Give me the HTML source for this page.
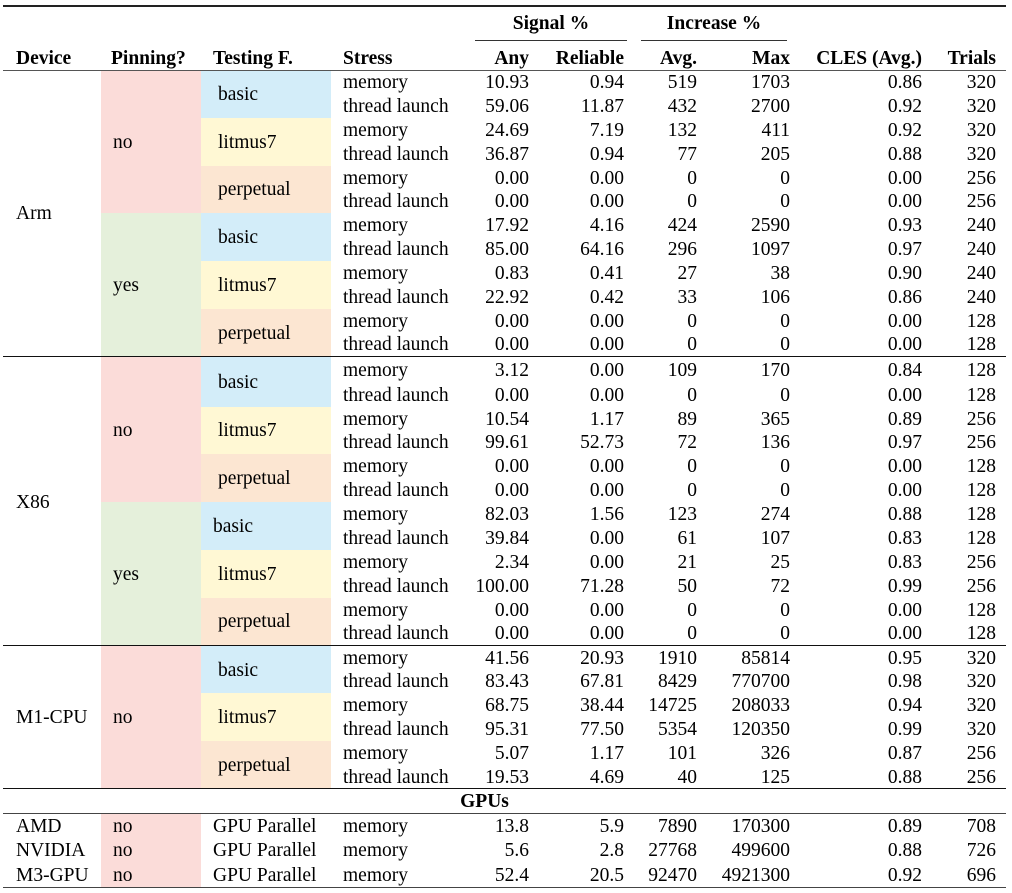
<!DOCTYPE html>
<html><head><meta charset="utf-8"><style>
body{margin:0;background:#fff;width:1012px;height:893px;overflow:hidden;font-family:"Liberation Serif","Times New Roman",serif;font-size:19.5px;color:#000}
table{position:absolute;left:3px;top:5px;width:1003px;border-collapse:collapse;table-layout:fixed;border-top:2px solid #222;border-bottom:1.5px solid #444}
td,th{padding:0;line-height:20px;white-space:nowrap}
tbody td{padding-top:2px}
th{font-weight:bold}
tbody tr{height:23.9px}
tbody tr.sec{height:23.9px}
tbody tr.big{height:26px}
tbody tr.big td{padding-top:3px}
tbody tr.g{height:24.6px}
.r{text-align:right}
.c1{padding-left:13px}.c2{padding-left:12px}.c3{padding-left:17px}.c4{padding-left:12px}
.pk{background:#fbdcd9}.gr{background:#e5f0db}.bl{background:#d3edf9}.ye{background:#fff8d4}.or{background:#fce6d2}
.sec td{border-top:1.3px solid #111}
tr.hd2{height:30px}
.hd2 th{border-bottom:1.3px solid #555;vertical-align:top;padding-top:8px}
.ul{border-bottom:1px solid #333}
</style></head><body>
<table>
<colgroup><col style="width:98px"><col style="width:100px"><col style="width:130px"><col style="width:104px"><col style="width:100px"><col style="width:95px"><col style="width:73px"><col style="width:93px"><col style="width:132px"><col style="width:78px"></colgroup>
<thead>
<tr style="height:35px"><th></th><th></th><th></th><th></th><th colspan="2" style="padding-left:40px;vertical-align:bottom"><div class="ul" style="width:152px;text-align:center;padding-bottom:6px">Signal %</div></th><th colspan="2" style="padding-left:11px;vertical-align:bottom"><div class="ul" style="width:146px;text-align:center;padding-bottom:6px">Increase %</div></th><th></th><th></th></tr>
<tr class="hd2" style="height:29px"><th style="text-align:left" class="c1">Device</th><th style="text-align:left;padding-left:10px">Pinning?</th><th style="text-align:left;padding-left:12px">Testing F.</th><th style="text-align:left" class="c4">Stress</th><th class="r" style="padding-right:6px">Any</th><th class="r" style="padding-right:6px">Reliable</th><th class="r" style="padding-right:6px">Avg.</th><th class="r" style="padding-right:6px">Max</th><th class="r" style="padding-right:6px">CLES (Avg.)</th><th class="r" style="padding-right:10px">Trials</th></tr>
</thead>
<tbody>
<tr><td rowspan="12" class="c1">Arm</td><td rowspan="6" class="c2 pk">no</td><td rowspan="2" class="c3 bl">basic</td><td class="c4">memory</td><td class="r" style="padding-right:6px">10.93</td><td class="r" style="padding-right:6px">0.94</td><td class="r" style="padding-right:6px">519</td><td class="r" style="padding-right:6px">1703</td><td class="r" style="padding-right:6px">0.86</td><td class="r" style="padding-right:10px">320</td></tr>
<tr><td class="c4">thread launch</td><td class="r" style="padding-right:6px">59.06</td><td class="r" style="padding-right:6px">11.87</td><td class="r" style="padding-right:6px">432</td><td class="r" style="padding-right:6px">2700</td><td class="r" style="padding-right:6px">0.92</td><td class="r" style="padding-right:10px">320</td></tr>
<tr><td rowspan="2" class="c3 ye">litmus7</td><td class="c4">memory</td><td class="r" style="padding-right:6px">24.69</td><td class="r" style="padding-right:6px">7.19</td><td class="r" style="padding-right:6px">132</td><td class="r" style="padding-right:6px">411</td><td class="r" style="padding-right:6px">0.92</td><td class="r" style="padding-right:10px">320</td></tr>
<tr><td class="c4">thread launch</td><td class="r" style="padding-right:6px">36.87</td><td class="r" style="padding-right:6px">0.94</td><td class="r" style="padding-right:6px">77</td><td class="r" style="padding-right:6px">205</td><td class="r" style="padding-right:6px">0.88</td><td class="r" style="padding-right:10px">320</td></tr>
<tr><td rowspan="2" class="c3 or">perpetual</td><td class="c4">memory</td><td class="r" style="padding-right:6px">0.00</td><td class="r" style="padding-right:6px">0.00</td><td class="r" style="padding-right:6px">0</td><td class="r" style="padding-right:6px">0</td><td class="r" style="padding-right:6px">0.00</td><td class="r" style="padding-right:10px">256</td></tr>
<tr><td class="c4">thread launch</td><td class="r" style="padding-right:6px">0.00</td><td class="r" style="padding-right:6px">0.00</td><td class="r" style="padding-right:6px">0</td><td class="r" style="padding-right:6px">0</td><td class="r" style="padding-right:6px">0.00</td><td class="r" style="padding-right:10px">256</td></tr>
<tr><td rowspan="6" class="c2 gr">yes</td><td rowspan="2" class="c3 bl">basic</td><td class="c4">memory</td><td class="r" style="padding-right:6px">17.92</td><td class="r" style="padding-right:6px">4.16</td><td class="r" style="padding-right:6px">424</td><td class="r" style="padding-right:6px">2590</td><td class="r" style="padding-right:6px">0.93</td><td class="r" style="padding-right:10px">240</td></tr>
<tr><td class="c4">thread launch</td><td class="r" style="padding-right:6px">85.00</td><td class="r" style="padding-right:6px">64.16</td><td class="r" style="padding-right:6px">296</td><td class="r" style="padding-right:6px">1097</td><td class="r" style="padding-right:6px">0.97</td><td class="r" style="padding-right:10px">240</td></tr>
<tr><td rowspan="2" class="c3 ye">litmus7</td><td class="c4">memory</td><td class="r" style="padding-right:6px">0.83</td><td class="r" style="padding-right:6px">0.41</td><td class="r" style="padding-right:6px">27</td><td class="r" style="padding-right:6px">38</td><td class="r" style="padding-right:6px">0.90</td><td class="r" style="padding-right:10px">240</td></tr>
<tr><td class="c4">thread launch</td><td class="r" style="padding-right:6px">22.92</td><td class="r" style="padding-right:6px">0.42</td><td class="r" style="padding-right:6px">33</td><td class="r" style="padding-right:6px">106</td><td class="r" style="padding-right:6px">0.86</td><td class="r" style="padding-right:10px">240</td></tr>
<tr><td rowspan="2" class="c3 or">perpetual</td><td class="c4">memory</td><td class="r" style="padding-right:6px">0.00</td><td class="r" style="padding-right:6px">0.00</td><td class="r" style="padding-right:6px">0</td><td class="r" style="padding-right:6px">0</td><td class="r" style="padding-right:6px">0.00</td><td class="r" style="padding-right:10px">128</td></tr>
<tr><td class="c4">thread launch</td><td class="r" style="padding-right:6px">0.00</td><td class="r" style="padding-right:6px">0.00</td><td class="r" style="padding-right:6px">0</td><td class="r" style="padding-right:6px">0</td><td class="r" style="padding-right:6px">0.00</td><td class="r" style="padding-right:10px">128</td></tr>

<tr class="sec big"><td rowspan="12" class="c1">X86</td><td rowspan="6" class="c2 pk">no</td><td rowspan="2" class="c3 bl">basic</td><td class="c4">memory</td><td class="r" style="padding-right:6px">3.12</td><td class="r" style="padding-right:6px">0.00</td><td class="r" style="padding-right:6px">109</td><td class="r" style="padding-right:6px">170</td><td class="r" style="padding-right:6px">0.84</td><td class="r" style="padding-right:10px">128</td></tr>
<tr><td class="c4">thread launch</td><td class="r" style="padding-right:6px">0.00</td><td class="r" style="padding-right:6px">0.00</td><td class="r" style="padding-right:6px">0</td><td class="r" style="padding-right:6px">0</td><td class="r" style="padding-right:6px">0.00</td><td class="r" style="padding-right:10px">128</td></tr>
<tr><td rowspan="2" class="c3 ye">litmus7</td><td class="c4">memory</td><td class="r" style="padding-right:6px">10.54</td><td class="r" style="padding-right:6px">1.17</td><td class="r" style="padding-right:6px">89</td><td class="r" style="padding-right:6px">365</td><td class="r" style="padding-right:6px">0.89</td><td class="r" style="padding-right:10px">256</td></tr>
<tr><td class="c4">thread launch</td><td class="r" style="padding-right:6px">99.61</td><td class="r" style="padding-right:6px">52.73</td><td class="r" style="padding-right:6px">72</td><td class="r" style="padding-right:6px">136</td><td class="r" style="padding-right:6px">0.97</td><td class="r" style="padding-right:10px">256</td></tr>
<tr><td rowspan="2" class="c3 or">perpetual</td><td class="c4">memory</td><td class="r" style="padding-right:6px">0.00</td><td class="r" style="padding-right:6px">0.00</td><td class="r" style="padding-right:6px">0</td><td class="r" style="padding-right:6px">0</td><td class="r" style="padding-right:6px">0.00</td><td class="r" style="padding-right:10px">128</td></tr>
<tr><td class="c4">thread launch</td><td class="r" style="padding-right:6px">0.00</td><td class="r" style="padding-right:6px">0.00</td><td class="r" style="padding-right:6px">0</td><td class="r" style="padding-right:6px">0</td><td class="r" style="padding-right:6px">0.00</td><td class="r" style="padding-right:10px">128</td></tr>
<tr><td rowspan="6" class="c2 gr">yes</td><td rowspan="2" class="c3 bl" style="padding-left:12px">basic</td><td class="c4">memory</td><td class="r" style="padding-right:6px">82.03</td><td class="r" style="padding-right:6px">1.56</td><td class="r" style="padding-right:6px">123</td><td class="r" style="padding-right:6px">274</td><td class="r" style="padding-right:6px">0.88</td><td class="r" style="padding-right:10px">128</td></tr>
<tr><td class="c4">thread launch</td><td class="r" style="padding-right:6px">39.84</td><td class="r" style="padding-right:6px">0.00</td><td class="r" style="padding-right:6px">61</td><td class="r" style="padding-right:6px">107</td><td class="r" style="padding-right:6px">0.83</td><td class="r" style="padding-right:10px">128</td></tr>
<tr><td rowspan="2" class="c3 ye">litmus7</td><td class="c4">memory</td><td class="r" style="padding-right:6px">2.34</td><td class="r" style="padding-right:6px">0.00</td><td class="r" style="padding-right:6px">21</td><td class="r" style="padding-right:6px">25</td><td class="r" style="padding-right:6px">0.83</td><td class="r" style="padding-right:10px">256</td></tr>
<tr><td class="c4">thread launch</td><td class="r" style="padding-right:6px">100.00</td><td class="r" style="padding-right:6px">71.28</td><td class="r" style="padding-right:6px">50</td><td class="r" style="padding-right:6px">72</td><td class="r" style="padding-right:6px">0.99</td><td class="r" style="padding-right:10px">256</td></tr>
<tr><td rowspan="2" class="c3 or">perpetual</td><td class="c4">memory</td><td class="r" style="padding-right:6px">0.00</td><td class="r" style="padding-right:6px">0.00</td><td class="r" style="padding-right:6px">0</td><td class="r" style="padding-right:6px">0</td><td class="r" style="padding-right:6px">0.00</td><td class="r" style="padding-right:10px">128</td></tr>
<tr><td class="c4">thread launch</td><td class="r" style="padding-right:6px">0.00</td><td class="r" style="padding-right:6px">0.00</td><td class="r" style="padding-right:6px">0</td><td class="r" style="padding-right:6px">0</td><td class="r" style="padding-right:6px">0.00</td><td class="r" style="padding-right:10px">128</td></tr>

<tr class="sec"><td rowspan="6" class="c1">M1-CPU</td><td rowspan="6" class="c2 pk">no</td><td rowspan="2" class="c3 bl">basic</td><td class="c4">memory</td><td class="r" style="padding-right:6px">41.56</td><td class="r" style="padding-right:6px">20.93</td><td class="r" style="padding-right:6px">1910</td><td class="r" style="padding-right:6px">85814</td><td class="r" style="padding-right:6px">0.95</td><td class="r" style="padding-right:10px">320</td></tr>
<tr><td class="c4">thread launch</td><td class="r" style="padding-right:6px">83.43</td><td class="r" style="padding-right:6px">67.81</td><td class="r" style="padding-right:6px">8429</td><td class="r" style="padding-right:6px">770700</td><td class="r" style="padding-right:6px">0.98</td><td class="r" style="padding-right:10px">320</td></tr>
<tr><td rowspan="2" class="c3 ye">litmus7</td><td class="c4">memory</td><td class="r" style="padding-right:6px">68.75</td><td class="r" style="padding-right:6px">38.44</td><td class="r" style="padding-right:6px">14725</td><td class="r" style="padding-right:6px">208033</td><td class="r" style="padding-right:6px">0.94</td><td class="r" style="padding-right:10px">320</td></tr>
<tr><td class="c4">thread launch</td><td class="r" style="padding-right:6px">95.31</td><td class="r" style="padding-right:6px">77.50</td><td class="r" style="padding-right:6px">5354</td><td class="r" style="padding-right:6px">120350</td><td class="r" style="padding-right:6px">0.99</td><td class="r" style="padding-right:10px">320</td></tr>
<tr><td rowspan="2" class="c3 or">perpetual</td><td class="c4">memory</td><td class="r" style="padding-right:6px">5.07</td><td class="r" style="padding-right:6px">1.17</td><td class="r" style="padding-right:6px">101</td><td class="r" style="padding-right:6px">326</td><td class="r" style="padding-right:6px">0.87</td><td class="r" style="padding-right:10px">256</td></tr>
<tr><td class="c4">thread launch</td><td class="r" style="padding-right:6px">19.53</td><td class="r" style="padding-right:6px">4.69</td><td class="r" style="padding-right:6px">40</td><td class="r" style="padding-right:6px">125</td><td class="r" style="padding-right:6px">0.88</td><td class="r" style="padding-right:10px">256</td></tr>

<tr class="sec g"><td colspan="10" style="text-align:center;font-weight:bold;border-bottom:1.3px solid #444;padding-right:40px">GPUs</td></tr>
<tr class="g"><td class="c1">AMD</td><td class="c2 pk">no</td><td class="c3" style="padding-left:12px">GPU Parallel</td><td class="c4">memory</td><td class="r" style="padding-right:6px">13.8</td><td class="r" style="padding-right:6px">5.9</td><td class="r" style="padding-right:6px">7890</td><td class="r" style="padding-right:6px">170300</td><td class="r" style="padding-right:6px">0.89</td><td class="r" style="padding-right:10px">708</td></tr>
<tr class="g"><td class="c1">NVIDIA</td><td class="c2 pk">no</td><td class="c3" style="padding-left:12px">GPU Parallel</td><td class="c4">memory</td><td class="r" style="padding-right:6px">5.6</td><td class="r" style="padding-right:6px">2.8</td><td class="r" style="padding-right:6px">27768</td><td class="r" style="padding-right:6px">499600</td><td class="r" style="padding-right:6px">0.88</td><td class="r" style="padding-right:10px">726</td></tr>
<tr class="g"><td class="c1">M3-GPU</td><td class="c2 pk">no</td><td class="c3" style="padding-left:12px">GPU Parallel</td><td class="c4">memory</td><td class="r" style="padding-right:6px">52.4</td><td class="r" style="padding-right:6px">20.5</td><td class="r" style="padding-right:6px">92470</td><td class="r" style="padding-right:6px">4921300</td><td class="r" style="padding-right:6px">0.92</td><td class="r" style="padding-right:10px">696</td></tr>
</tbody></table>
</body></html>
